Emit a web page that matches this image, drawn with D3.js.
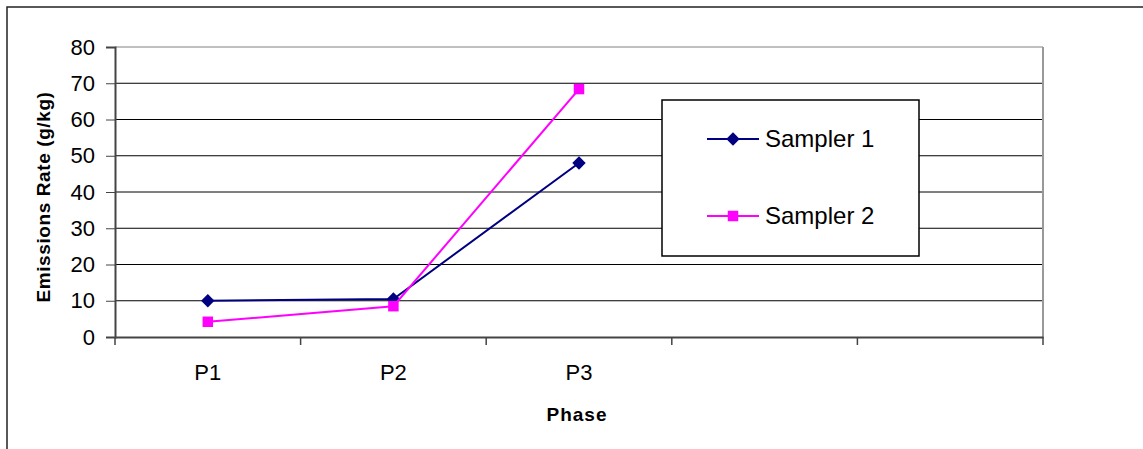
<!DOCTYPE html>
<html>
<head>
<meta charset="utf-8">
<script src="https://cdn.jsdelivr.net/npm/d3@7"></script>
<style>
  body { margin: 0; background: #fff; }
  svg { display: block; font-family: Arial, "Liberation Sans", sans-serif; }
</style>
</head>
<body>
<div id="chart"></div>
<script>
// data
var phases = ["P1", "P2", "P3", "", ""];
var sampler1 = [10.0, 10.5, 48.0];
var sampler2 = [4.2, 8.5, 68.4];
var seriesNames = ["Sampler 1", "Sampler 2"];
var yTicks = [0, 10, 20, 30, 40, 50, 60, 70, 80];

var W = 1143, H = 449;
var margin = {top: 47, right: 100, bottom: 112, left: 115},
    width = W - margin.left - margin.right,
    height = H - margin.top - margin.bottom;

var svg = d3.select("#chart")
  .append("svg")
    .attr("width", W)
    .attr("height", H);

// outer chart frame (runs off right and bottom)
svg.append("rect")
  .attr("x", 7).attr("y", 7)
  .attr("width", W + 10).attr("height", H + 10)
  .attr("fill", "#fff")
  .attr("stroke", "#222")
  .attr("stroke-width", 1.5);

var g = svg.append("g")
  .attr("transform", "translate(" + margin.left + "," + margin.top + ")");

var x = d3.scaleBand()
  .domain(d3.range(phases.length))
  .range([0, width])
  .padding(0);

var y = d3.scaleLinear()
  .domain([0, 80])
  .range([height, 0]);

// gridlines
g.append("g")
  .selectAll("line")
  .data(yTicks.filter(function(d) { return d > 0; }))
  .enter()
  .append("line")
    .attr("x1", 0).attr("x2", width)
    .attr("y1", function(d) { return y(d); })
    .attr("y2", function(d) { return y(d); })
    .attr("stroke", function(d) { return d == 80 ? "#808080" : "#000"; })
    .attr("stroke-width", 1);

// plot area right border
g.append("line")
  .attr("x1", width).attr("x2", width)
  .attr("y1", 0).attr("y2", height)
  .attr("stroke", "#999")
  .attr("stroke-width", 2);

// Y axis
var yAxis = g.append("g")
  .call(d3.axisLeft(y).tickValues(yTicks).tickSize(9).tickPadding(11));
yAxis.select(".domain").attr("stroke", "#444").attr("stroke-width", 2);
yAxis.selectAll(".tick line").attr("stroke", "#444");
yAxis.selectAll("text")
  .attr("font-size", 22)
  .attr("font-family", "Arial, 'Liberation Sans', sans-serif")
  .attr("fill", "#000");

// X axis
var xAxis = g.append("g")
  .attr("transform", "translate(0," + height + ")")
  .call(d3.axisBottom(x).tickSize(0).tickPadding(27).tickFormat(function(i) { return phases[i]; }));
xAxis.select(".domain").attr("stroke", "#444").attr("stroke-width", 2);
xAxis.selectAll("text")
  .attr("font-size", 22)
  .attr("font-family", "Arial, 'Liberation Sans', sans-serif")
  .attr("fill", "#000");

// x tick marks at band edges
g.append("g")
  .selectAll("line")
  .data(d3.range(phases.length + 1))
  .enter()
  .append("line")
    .attr("x1", function(i) { return i * x.step(); })
    .attr("x2", function(i) { return i * x.step(); })
    .attr("y1", height)
    .attr("y2", height + 8)
    .attr("stroke", "#444")
    .attr("stroke-width", 1.5);

// axis titles
svg.append("text")
  .attr("transform", "translate(50,197) rotate(-90)")
  .attr("text-anchor", "middle")
  .attr("font-size", 19)
  .attr("font-weight", "bold")
  .attr("letter-spacing", 0.6)
  .text("Emissions Rate (g/kg)");

svg.append("text")
  .attr("x", 577)
  .attr("y", 421)
  .attr("text-anchor", "middle")
  .attr("font-size", 19)
  .attr("font-weight", "bold")
  .attr("letter-spacing", 1)
  .text("Phase");

// lines
var line = d3.line()
  .x(function(d, i) { return x(i) + x.bandwidth() / 2; })
  .y(function(d) { return y(d); });

var colors = ["#000080", "#ff00ff"];
var sizes = [90, 110];
var rotations = [45, 0];

[sampler1, sampler2].forEach(function(vals, s) {
  g.append("path")
    .datum(vals)
    .attr("fill", "none")
    .attr("stroke", colors[s])
    .attr("stroke-width", 2)
    .attr("d", line);

  g.selectAll(".pt" + s)
    .data(vals)
    .enter()
    .append("path")
      .attr("class", "pt" + s)
      .attr("transform", function(d, i) {
        return "translate(" + (x(i) + x.bandwidth() / 2) + "," + y(d) + ") rotate(" + rotations[s] + ")";
      })
      .attr("d", d3.symbol().type(d3.symbolSquare).size(sizes[s]))
      .attr("fill", colors[s]);
});

// legend
var legend = svg.append("g");
legend.append("rect")
  .attr("x", 662).attr("y", 100)
  .attr("width", 257).attr("height", 156)
  .attr("fill", "#fff")
  .attr("stroke", "#000")
  .attr("stroke-width", 1.5);

var legendY = [139, 216];
seriesNames.forEach(function(name, s) {
  legend.append("line")
    .attr("x1", 707).attr("x2", 759)
    .attr("y1", legendY[s]).attr("y2", legendY[s])
    .attr("stroke", colors[s])
    .attr("stroke-width", 2);
  legend.append("path")
    .attr("transform", "translate(733," + legendY[s] + ") rotate(" + rotations[s] + ")")
    .attr("d", d3.symbol().type(d3.symbolSquare).size(sizes[s]))
    .attr("fill", colors[s]);
  legend.append("text")
    .attr("x", 765)
    .attr("y", legendY[s] + 8)
    .attr("font-size", 24)
    .text(name);
});
</script>
</body>
</html>
